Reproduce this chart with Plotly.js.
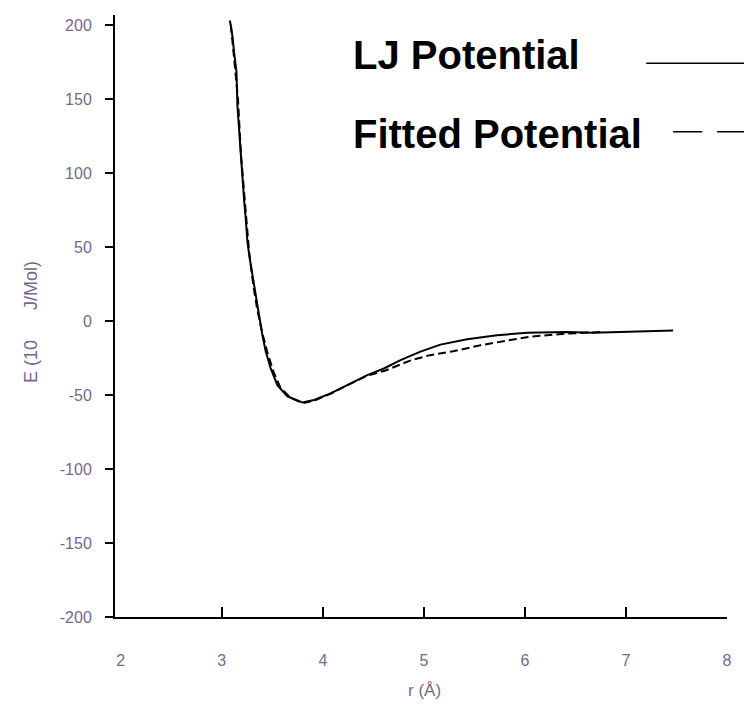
<!DOCTYPE html>
<html>
<head>
<meta charset="utf-8">
<script src="https://cdn.plot.ly/plotly-3.0.1.min.js"></script>
<style>html,body{margin:0;padding:0;background:#fff;}#chart{width:744px;height:712px;}</style>
</head>
<body>
<div id="chart"></div>
<script>
// LJ potential (solid)
const ljR = [3.08, 3.106, 3.122, 3.145, 3.155, 3.178, 3.195, 3.220, 3.237, 3.254, 3.277, 3.309, 3.336, 3.369, 3.402, 3.435, 3.484, 3.550, 3.649, 3.797, 3.912, 4.077, 4.275, 4.440, 4.604, 4.769, 4.966, 5.163, 5.428, 5.724, 6.021, 6.416, 6.676, 7.071, 7.466];
const ljE = [203, 192.1, 181.2, 168.6, 145.0, 122.6, 100.4, 82.3, 68.8, 53.3, 41.9, 28.5, 15.0, 1.5, -9.7, -20.7, -32.1, -43.4, -50.9, -55.0, -53.4, -48.9, -42.2, -36.6, -32.1, -26.5, -20.7, -16.0, -12.4, -9.7, -7.9, -7.4, -7.9, -7.0, -6.5];
// Fitted potential (dashed)
const fitR = [3.09, 3.12, 3.16, 3.19, 3.23, 3.27, 3.31, 3.35, 3.40, 3.45, 3.51, 3.58, 3.68, 3.80, 3.93, 4.08, 4.27, 4.44, 4.62, 4.87, 5.06, 5.29, 5.56, 5.79, 6.05, 6.42, 6.75];
const fitE = [200, 180, 150, 112, 78, 47, 25, 8, -8, -21, -34, -45, -52, -55.5, -53.5, -49, -42.5, -37, -33.5, -26.6, -23.1, -20.5, -16.4, -13.9, -10.6, -8.5, -7.5];
const xTickLabels = [2, 3, 4, 5, 6, 7, 8];
const xTickMarks = [3, 4, 5, 6, 7, 8];
const yTicks = [-200, -150, -100, -50, 0, 50, 100, 150, 200];
const seriesNames = ["LJ Potential", "Fitted Potential"];
const xTitle = "r (Å)";
const yTitle = "E (10      J/Mol)";

const labelColor = "#77678a";
const traces = [
  {x: ljR, y: ljE, type: "scatter", mode: "lines", name: seriesNames[0],
   line: {color: "#000", width: 2}},
  {x: fitR, y: fitE, type: "scatter", mode: "lines", name: seriesNames[1],
   line: {color: "#000", width: 2, dash: "8px,4px"}}
];

const layout = {
  width: 744, height: 712,
  margin: {l: 115, r: 17, t: 15, b: 95},
  paper_bgcolor: "#fff", plot_bgcolor: "#fff",
  showlegend: false,
  font: {family: "Liberation Sans, Arial, sans-serif", color: labelColor, size: 16},
  xaxis: {
    range: [1.943, 8.0], tickvals: xTickLabels, ticktext: xTickLabels.map(String),
    showgrid: false, zeroline: false, showline: true, linecolor: "#000", linewidth: 2,
    ticks: "", ticklabelstandoff: 28,
    tickfont: {size: 16, color: labelColor}
  },
  xaxis2: {
    range: [1.943, 8.0], overlaying: "x", anchor: "y", side: "bottom",
    tickvals: xTickMarks, showticklabels: false,
    showgrid: false, zeroline: false, showline: false,
    ticks: "inside", ticklen: 10, tickwidth: 2, tickcolor: "#000"
  },
  yaxis: {
    range: [-200, 206.7], tickvals: yTicks, ticktext: yTicks.map(String),
    showgrid: false, zeroline: false, showline: true, linecolor: "#000", linewidth: 2,
    ticks: "outside", ticklen: 8, tickwidth: 2, tickcolor: "#000",
    ticklabelstandoff: 10,
    tickfont: {size: 16, color: labelColor}
  },
  annotations: [
    {text: xTitle, xref: "paper", yref: "paper", x: 0.505, y: 0, yshift: -73,
     showarrow: false, xanchor: "center", yanchor: "middle",
     font: {size: 17, color: labelColor}},
    {text: yTitle, xref: "paper", yref: "paper", x: 0, xshift: -84, y: 0.49,
     textangle: -90, showarrow: false, xanchor: "center", yanchor: "middle",
     font: {size: 18, color: labelColor}},
    {text: "<b>" + seriesNames[0] + "</b>", xref: "paper", yref: "paper",
     x: 0.385, y: 0.934, showarrow: false, xanchor: "left", yanchor: "middle",
     font: {size: 40, color: "#000", family: "Liberation Sans, Arial, sans-serif"}},
    {text: "<b>" + seriesNames[1] + "</b>", xref: "paper", yref: "paper",
     x: 0.385, y: 0.802, showarrow: false, xanchor: "left", yanchor: "middle",
     font: {size: 40, color: "#000", family: "Liberation Sans, Arial, sans-serif"}}
  ],
  shapes: [
    {type: "line", xref: "paper", yref: "paper", x0: 0.868, x1: 1.03, y0: 0.920, y1: 0.920,
     line: {color: "#000", width: 1.5}},
    {type: "line", xref: "paper", yref: "paper", x0: 0.912, x1: 1.03, y0: 0.806, y1: 0.806,
     line: {color: "#000", width: 1.5, dash: "29px,15px"}}
  ]
};

// invisible helper trace so the second x axis (tick marks only) is drawn
traces.push({x: [xTickMarks[0]], y: [yTicks[0]], xaxis: "x2", yaxis: "y", type: "scatter",
             mode: "markers", marker: {opacity: 0}, hoverinfo: "skip", showlegend: false});

Plotly.newPlot("chart", traces, layout, {displayModeBar: false, staticPlot: true});
</script>
</body>
</html>
